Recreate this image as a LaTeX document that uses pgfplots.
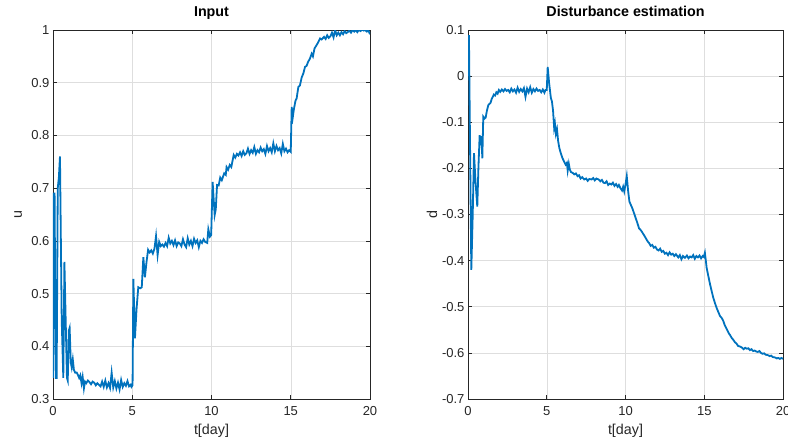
\documentclass[border=0pt]{standalone}
\usepackage{fontspec}
\setmainfont{Liberation Sans}
\usepackage{pgfplots}
\pgfplotsset{compat=1.18}
\usepackage{pgfplotstable}

\definecolor{mblue}{rgb}{0,0.447,0.741}
\definecolor{axgray}{rgb}{0.15,0.15,0.15}
\definecolor{gridgray}{rgb}{0.87,0.87,0.87}

\pgfplotstableread{
t u
0.00 0.34
0.05 0.69
0.10 0.69
0.17 0.34
0.23 0.34
0.30 0.70
0.37 0.72
0.44 0.76
0.55 0.45
0.65 0.34
0.72 0.56
0.80 0.45
0.88 0.34
0.93 0.335
1.00 0.43
1.05 0.435
1.12 0.37
1.18 0.36
1.25 0.375
1.32 0.355
1.40 0.35
1.50 0.35
1.58 0.345
1.65 0.34
1.72 0.345
1.80 0.33
1.87 0.342
1.95 0.32
2.02 0.333
2.1 0.330
2.2 0.335
2.3 0.332
2.4 0.328
2.5 0.333
2.6 0.331
2.7 0.326
2.8 0.330
2.9 0.327
3.0 0.324
3.1 0.333
3.2 0.323
3.3 0.335
3.4 0.322
3.5 0.330
3.6 0.321
3.7 0.350
3.8 0.322
3.9 0.334
4.0 0.320
4.1 0.331
4.2 0.318
4.3 0.336
4.4 0.323
4.5 0.330
4.6 0.325
4.7 0.334
4.8 0.324
4.9 0.327
4.95 0.323
5.02 0.326
5.07 0.528
5.17 0.415
5.27 0.470
5.38 0.512
5.50 0.510
5.60 0.512
5.70 0.569
5.80 0.531
5.90 0.560
6.00 0.583
6.10 0.578
6.20 0.582
6.30 0.576
6.40 0.585
6.50 0.609
6.60 0.573
6.70 0.598
6.80 0.590
6.90 0.593
7.00 0.589
7.10 0.596
7.20 0.590
7.30 0.606
7.40 0.595
7.50 0.600
7.60 0.592
7.70 0.601
7.80 0.590
7.90 0.597
8.00 0.595
8.10 0.590
8.20 0.603
8.30 0.593
8.40 0.588
8.50 0.605
8.60 0.593
8.70 0.600
8.80 0.590
8.90 0.604
9.00 0.596
9.10 0.601
9.20 0.588
9.30 0.600
9.40 0.596
9.50 0.603
9.60 0.598
9.73 0.596
9.80 0.622
9.90 0.608
9.98 0.611
10.07 0.712
10.20 0.649
10.27 0.660
10.35 0.706
10.45 0.705
10.55 0.720
10.65 0.715
10.80 0.728
10.90 0.725
10.95 0.740
11.05 0.735
11.15 0.744
11.25 0.740
11.40 0.763
11.5 0.758
11.6 0.765
11.7 0.762
11.8 0.768
11.9 0.761
12.0 0.770
12.1 0.763
12.2 0.766
12.3 0.775
12.4 0.765
12.5 0.772
12.6 0.767
12.7 0.778
12.8 0.765
12.9 0.772
13.0 0.768
13.1 0.777
13.2 0.770
13.3 0.774
13.4 0.765
13.5 0.780
13.6 0.770
13.7 0.776
13.8 0.768
13.9 0.785
14.0 0.770
14.1 0.780
14.2 0.772
14.3 0.776
14.4 0.766
14.5 0.784
14.6 0.770
14.7 0.775
14.8 0.768
14.9 0.772
15.0 0.769
15.06 0.854
15.13 0.835
15.20 0.850
15.30 0.866
15.37 0.870
15.48 0.892
15.58 0.895
15.69 0.910
15.80 0.918
15.90 0.930
16.00 0.932
16.10 0.940
16.20 0.945
16.32 0.955
16.40 0.950
16.50 0.965
16.60 0.970
16.70 0.975
16.85 0.984
16.95 0.982
17.1 0.987
17.2 0.983
17.3 0.990
17.4 0.985
17.5 0.988
17.6 0.995
17.7 0.986
17.8 1.000
17.9 0.990
18.0 0.995
18.1 0.990
18.2 0.996
18.3 0.992
18.4 0.998
18.5 0.994
18.6 0.996
18.7 0.999
18.8 0.995
18.9 1.000
19.0 0.997
19.1 1.000
19.2 0.996
19.3 1.000
19.4 0.998
19.5 1.001
19.6 0.999
19.7 1.000
19.8 0.997
19.9 0.999
20.0 0.992
}\inputdata

\pgfplotstableread{
t d
0.00 0.000
0.06 0.089
0.13 -0.15
0.21 -0.420
0.30 -0.30
0.38 -0.167
0.48 -0.230
0.59 -0.283
0.66 -0.200
0.74 -0.128
0.80 -0.150
0.85 -0.130
0.91 -0.178
0.97 -0.088
1.05 -0.092
1.12 -0.090
1.20 -0.075
1.29 -0.063
1.36 -0.060
1.43 -0.058
1.50 -0.050
1.57 -0.045
1.64 -0.040
1.72 -0.042
1.80 -0.035
1.88 -0.038
1.96 -0.030
2.05 -0.034
2.15 -0.029
2.25 -0.033
2.35 -0.028
2.45 -0.032
2.55 -0.030
2.65 -0.035
2.75 -0.027
2.85 -0.033
2.95 -0.029
3.05 -0.036
3.15 -0.025
3.25 -0.034
3.35 -0.028
3.45 -0.033
3.55 -0.026
3.65 -0.045
3.75 -0.027
3.85 -0.035
3.95 -0.024
4.05 -0.036
4.15 -0.028
4.25 -0.033
4.35 -0.027
4.45 -0.032
4.55 -0.030
4.65 -0.035
4.75 -0.029
4.85 -0.036
4.92 -0.030
5.00 -0.030
5.06 0.020
5.15 -0.015
5.26 -0.047
5.33 -0.055
5.40 -0.075
5.47 -0.112
5.52 -0.103
5.58 -0.125
5.65 -0.115
5.72 -0.140
5.80 -0.156
5.90 -0.168
6.00 -0.178
6.10 -0.185
6.20 -0.192
6.28 -0.188
6.33 -0.205
6.40 -0.190
6.47 -0.203
6.54 -0.208
6.65 -0.210
6.75 -0.213
6.85 -0.211
6.96 -0.217
7.05 -0.215
7.15 -0.222
7.25 -0.219
7.38 -0.224
7.50 -0.222
7.60 -0.227
7.70 -0.223
7.85 -0.224
7.95 -0.221
8.05 -0.226
8.15 -0.222
8.29 -0.224
8.40 -0.228
8.50 -0.225
8.60 -0.231
8.70 -0.232
8.80 -0.228
8.90 -0.236
9.00 -0.233
9.10 -0.235
9.20 -0.231
9.30 -0.238
9.40 -0.234
9.50 -0.240
9.58 -0.236
9.68 -0.243
9.78 -0.248
9.85 -0.240
9.92 -0.250
10.00 -0.235
10.08 -0.217
10.17 -0.250
10.25 -0.272
10.35 -0.280
10.44 -0.287
10.55 -0.298
10.65 -0.308
10.75 -0.318
10.86 -0.330
10.95 -0.333
11.05 -0.338
11.18 -0.345
11.30 -0.352
11.40 -0.358
11.50 -0.362
11.60 -0.368
11.70 -0.366
11.80 -0.372
11.90 -0.370
12.00 -0.376
12.10 -0.378
12.20 -0.374
12.30 -0.381
12.40 -0.379
12.50 -0.385
12.60 -0.383
12.70 -0.388
12.80 -0.382
12.90 -0.387
13.00 -0.385
13.10 -0.390
13.20 -0.386
13.35 -0.393
13.45 -0.388
13.55 -0.397
13.65 -0.390
13.77 -0.394
13.90 -0.389
14.00 -0.395
14.10 -0.391
14.20 -0.393
14.30 -0.388
14.40 -0.396
14.50 -0.390
14.60 -0.393
14.70 -0.389
14.80 -0.395
14.90 -0.390
14.97 -0.392
15.04 -0.383
15.10 -0.400
15.15 -0.415
15.25 -0.432
15.36 -0.450
15.47 -0.466
15.57 -0.480
15.68 -0.492
15.78 -0.502
15.90 -0.512
16.00 -0.520
16.10 -0.524
16.20 -0.530
16.30 -0.540
16.42 -0.548
16.55 -0.557
16.65 -0.562
16.73 -0.567
16.85 -0.572
16.95 -0.577
17.05 -0.580
17.15 -0.585
17.25 -0.586
17.37 -0.588
17.50 -0.592
17.60 -0.589
17.70 -0.591
17.80 -0.590
17.90 -0.594
18.00 -0.592
18.10 -0.596
18.20 -0.595
18.30 -0.597
18.40 -0.598
18.50 -0.596
18.60 -0.600
18.70 -0.602
18.80 -0.601
18.90 -0.604
19.05 -0.605
19.15 -0.607
19.25 -0.606
19.35 -0.609
19.50 -0.610
19.60 -0.612
19.70 -0.611
19.80 -0.613
19.90 -0.611
20.00 -0.613
}\distdata

\pgfplotsset{
  mlab/.style={
    scale only axis,
    anchor=south west,
    width=317pt, height=369pt,
    xmin=0, xmax=20,
    xtick={0,5,...,20},
    grid=major,
    major grid style={gridgray, line width=0.5pt},
    axis line style={axgray, line width=0.6pt},
    tick style={axgray, line width=0.6pt},
    major tick length=4pt,
    tick align=inside,
    ticklabel style={font=\fontsize{13}{15}\selectfont, text=axgray},
    xticklabel style={yshift=-4pt},
    label style={font=\fontsize{14.3}{16}\selectfont, text=axgray},
    title style={font=\fontsize{14.3}{16}\selectfont\bfseries, text=black,
      at={(axis description cs:0.5,1)}, anchor=base, yshift=8pt},
    xlabel={t[day]},
    xlabel style={at={(axis description cs:0.5,0)}, anchor=base, yshift=-36pt},
    ylabel style={at={(axis description cs:-0.098,0.5)}, anchor=base, rotate=0},
    /pgf/number format/assume math mode=true,
    yticklabel style={/pgf/number format/fixed},
  },
}

\begin{document}
\begin{tikzpicture}
\path[use as bounding box] (0,0) rectangle (788pt,442pt);
\begin{axis}[mlab, at={(53pt,43pt)},
  ymin=0.3, ymax=1, ytick={0.3,0.4,...,1.0},
  title={Input}, ylabel={u}]
\addplot[mblue, line width=1.8pt] table[x=t, y=u] {\inputdata};
\end{axis}
\begin{axis}[mlab, at={(468pt,43pt)}, width=315pt,
  ymin=-0.7, ymax=0.1, ytick={-0.7,-0.6,...,0.1},
  title={Disturbance estimation}, ylabel={d}]
\addplot[mblue, line width=1.8pt] table[x=t, y=d] {\distdata};
\end{axis}
\end{tikzpicture}
\end{document}
